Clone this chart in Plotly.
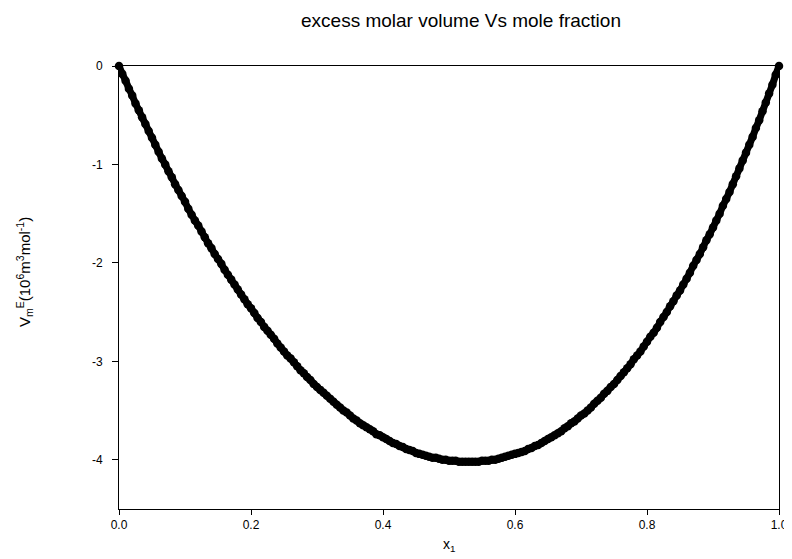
import plotly.graph_objects as go

# mole fraction x1 (0 to 1, step 0.005)
x1 = [
    0.000, 0.005, 0.010, 0.015, 0.020, 0.025, 0.030, 0.035, 0.040, 0.045,
    0.050, 0.055, 0.060, 0.065, 0.070, 0.075, 0.080, 0.085, 0.090, 0.095,
    0.100, 0.105, 0.110, 0.115, 0.120, 0.125, 0.130, 0.135, 0.140, 0.145,
    0.150, 0.155, 0.160, 0.165, 0.170, 0.175, 0.180, 0.185, 0.190, 0.195,
    0.200, 0.205, 0.210, 0.215, 0.220, 0.225, 0.230, 0.235, 0.240, 0.245,
    0.250, 0.255, 0.260, 0.265, 0.270, 0.275, 0.280, 0.285, 0.290, 0.295,
    0.300, 0.305, 0.310, 0.315, 0.320, 0.325, 0.330, 0.335, 0.340, 0.345,
    0.350, 0.355, 0.360, 0.365, 0.370, 0.375, 0.380, 0.385, 0.390, 0.395,
    0.400, 0.405, 0.410, 0.415, 0.420, 0.425, 0.430, 0.435, 0.440, 0.445,
    0.450, 0.455, 0.460, 0.465, 0.470, 0.475, 0.480, 0.485, 0.490, 0.495,
    0.500, 0.505, 0.510, 0.515, 0.520, 0.525, 0.530, 0.535, 0.540, 0.545,
    0.550, 0.555, 0.560, 0.565, 0.570, 0.575, 0.580, 0.585, 0.590, 0.595,
    0.600, 0.605, 0.610, 0.615, 0.620, 0.625, 0.630, 0.635, 0.640, 0.645,
    0.650, 0.655, 0.660, 0.665, 0.670, 0.675, 0.680, 0.685, 0.690, 0.695,
    0.700, 0.705, 0.710, 0.715, 0.720, 0.725, 0.730, 0.735, 0.740, 0.745,
    0.750, 0.755, 0.760, 0.765, 0.770, 0.775, 0.780, 0.785, 0.790, 0.795,
    0.800, 0.805, 0.810, 0.815, 0.820, 0.825, 0.830, 0.835, 0.840, 0.845,
    0.850, 0.855, 0.860, 0.865, 0.870, 0.875, 0.880, 0.885, 0.890, 0.895,
    0.900, 0.905, 0.910, 0.915, 0.920, 0.925, 0.930, 0.935, 0.940, 0.945,
    0.950, 0.955, 0.960, 0.965, 0.970, 0.975, 0.980, 0.985, 0.990, 0.995,
    1.000,
]

# excess molar volume V_m^E
vm_e = [
    0.00, -0.08, -0.15, -0.23, -0.30, -0.38, -0.45, -0.52, -0.59, -0.66,
    -0.73, -0.80, -0.87, -0.94, -1.00, -1.07, -1.13, -1.20, -1.26, -1.32,
    -1.38, -1.45, -1.51, -1.57, -1.62, -1.68, -1.74, -1.80, -1.85, -1.91,
    -1.96, -2.01, -2.07, -2.12, -2.17, -2.22, -2.27, -2.32, -2.37, -2.42,
    -2.46, -2.51, -2.56, -2.60, -2.65, -2.69, -2.73, -2.77, -2.82, -2.86,
    -2.90, -2.94, -2.97, -3.01, -3.05, -3.09, -3.12, -3.16, -3.19, -3.23,
    -3.26, -3.29, -3.32, -3.35, -3.38, -3.41, -3.44, -3.47, -3.50, -3.52,
    -3.55, -3.58, -3.60, -3.63, -3.65, -3.67, -3.69, -3.71, -3.74, -3.75,
    -3.77, -3.79, -3.81, -3.83, -3.84, -3.86, -3.87, -3.89, -3.90, -3.91,
    -3.93, -3.94, -3.95, -3.96, -3.97, -3.98, -3.98, -3.99, -4.00, -4.00,
    -4.01, -4.01, -4.01, -4.02, -4.02, -4.02, -4.02, -4.02, -4.02, -4.02,
    -4.01, -4.01, -4.01, -4.00, -4.00, -3.99, -3.98, -3.97, -3.96, -3.95,
    -3.94, -3.93, -3.92, -3.91, -3.89, -3.88, -3.86, -3.85, -3.83, -3.81,
    -3.79, -3.77, -3.75, -3.73, -3.71, -3.68, -3.66, -3.63, -3.61, -3.58,
    -3.55, -3.53, -3.50, -3.47, -3.43, -3.40, -3.37, -3.33, -3.30, -3.26,
    -3.23, -3.19, -3.15, -3.11, -3.07, -3.03, -2.98, -2.94, -2.90, -2.85,
    -2.80, -2.75, -2.71, -2.66, -2.60, -2.55, -2.50, -2.44, -2.39, -2.33,
    -2.28, -2.22, -2.16, -2.10, -2.03, -1.97, -1.91, -1.84, -1.77, -1.71,
    -1.64, -1.57, -1.50, -1.42, -1.35, -1.28, -1.20, -1.12, -1.04, -0.96,
    -0.88, -0.80, -0.72, -0.63, -0.55, -0.46, -0.37, -0.28, -0.19, -0.09,
    0.00,
]

x_tickvals = [0.0, 0.2, 0.4, 0.6, 0.8, 1.0]
x_ticktext = ["0.0", "0.2", "0.4", "0.6", "0.8", "1.0"]
y_tickvals = [0, -1, -2, -3, -4]
y_ticktext = ["0", "-1", "-2", "-3", "-4"]

font = "Liberation Sans, Arial, sans-serif"

fig = go.Figure()
fig.add_trace(go.Scatter(
    x=x1, y=vm_e, mode="lines+markers",
    line=dict(color="black", width=7, shape="spline", smoothing=0.6),
    marker=dict(size=8.5, color="black", line=dict(width=0)),
    cliponaxis=False, showlegend=False,
))

fig.update_layout(
    width=784, height=551,
    margin=dict(l=111, r=13, t=58, b=50, autoexpand=False),
    paper_bgcolor="white", plot_bgcolor="white",
    font=dict(family=font, color="black", size=12),
    title=dict(text="excess molar volume Vs mole fraction",
               x=453 / 784, xanchor="center",
               y=1 - 12 / 551, yanchor="middle",
               font=dict(size=19)),
    annotations=[
        dict(text="V<sub>m</sub><sup>E</sup>(10<sup>6</sup>m<sup>3</sup>mol<sup>-1</sup>)",
             xref="paper", yref="paper", x=-0.1424, y=0.535,
             xanchor="center", yanchor="middle", textangle=-90,
             showarrow=False, font=dict(size=15)),
        dict(text="x<sub>1</sub>",
             xref="paper", yref="paper", x=0.5, y=-0.081,
             xanchor="center", yanchor="middle",
             showarrow=False, font=dict(size=14)),
    ],
)
fig.update_xaxes(range=[0, 1], tickvals=x_tickvals, ticktext=x_ticktext,
                 ticks="outside", ticklen=5, tickwidth=1, tickcolor="black",
                 tickfont=dict(size=12), ticklabeloverflow="allow",
                 automargin=False,
                 showline=True, linecolor="black", linewidth=1, mirror=True,
                 showgrid=False, zeroline=False)
fig.update_yaxes(range=[-4.5, 0], tickvals=y_tickvals, ticktext=y_ticktext,
                 ticks="outside", ticklen=6, tickwidth=1, tickcolor="black",
                 ticklabelstandoff=7, automargin=False,
                 showline=True, linecolor="black", linewidth=1, mirror=True,
                 showgrid=False, zeroline=False)
fig.write_html("out.html")
